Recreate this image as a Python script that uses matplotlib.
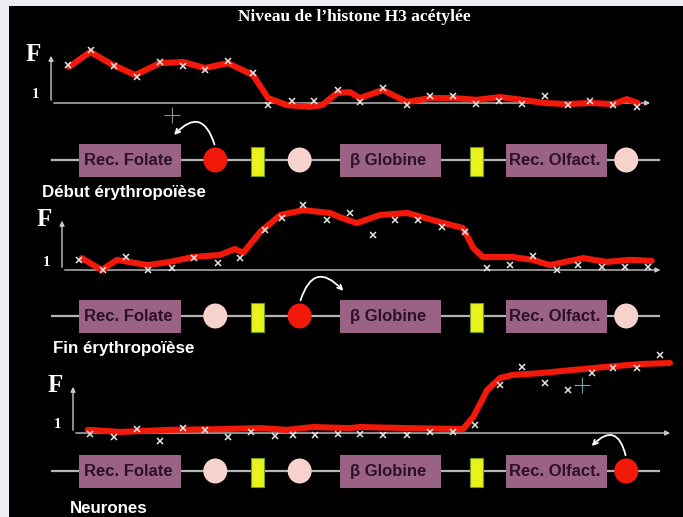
import matplotlib
matplotlib.use("Agg")
import matplotlib.pyplot as plt
from matplotlib.patches import Rectangle, Ellipse, FancyArrowPatch

plt.rcParams['font.family'] = ['Liberation Sans', 'DejaVu Sans']

title = "Niveau de l\u2019histone H3 acétylée"
stages = ["Début érythropoïèse", "Fin érythropoïèse", "Neurones"]

# red traces (position along the locus, fold enrichment F)
p1_curve_pos = [2.8, 6.3, 10.0, 13.7, 17.8, 21.6, 25.2, 29.0, 33.1, 35.6, 38.7, 42.5, 44.5, 47.0, 49.1,
                50.7, 54.5, 58.5, 62.3, 66.1, 70.0, 73.8, 77.4, 81.2, 84.8, 88.6, 92.4, 94.7, 96.5]
p1_curve_f = [2.03, 2.46, 2.09, 1.80, 2.14, 2.17, 2.00, 2.14, 1.80, 1.14, 0.94, 0.89, 0.94, 1.29, 1.31,
              1.14, 1.37, 1.03, 1.14, 1.14, 1.09, 1.17, 1.09, 1.00, 0.97, 1.00, 0.97, 1.11, 1.00]
p2_curve_pos = [4.9, 8.2, 10.7, 15.7, 19.4, 23.2, 27.7, 30.1, 31.5, 34.3, 37.6, 41.4, 45.8, 47.4,
                50.2, 54.0, 58.5, 63.9, 67.7, 69.4, 71.0, 75.9, 79.2, 82.0, 87.5, 91.4, 95.2, 98.8]
p2_curve_f = [1.34, 1.00, 1.29, 1.14, 1.23, 1.37, 1.43, 1.60, 1.49, 2.09, 2.57, 2.71, 2.63, 2.51,
              2.34, 2.57, 2.63, 2.37, 2.20, 1.63, 1.37, 1.37, 1.29, 1.14, 1.34, 1.23, 1.29, 1.26]
p3_curve_pos = [5.9, 11.2, 19.4, 27.7, 34.3, 38.7, 43.0, 49.1, 50.7, 58.5, 67.7, 69.4, 71.7, 73.8,
                75.9, 80.4, 85.8, 91.4, 96.9, 101.8]
p3_curve_f = [1.09, 1.03, 1.09, 1.11, 1.14, 1.09, 1.17, 1.14, 1.17, 1.14, 1.11, 1.46, 2.23, 2.57,
              2.66, 2.71, 2.80, 2.89, 2.97, 3.00]

# measured points (white x)
p1_mark_pos = [2.6, 6.4, 10.2, 14.0, 17.8, 21.6, 25.2, 29.0, 33.1, 35.6, 39.5, 43.2, 47.1, 50.7,
               54.5, 58.5, 62.3, 66.1, 69.9, 73.6, 77.4, 81.2, 85.0, 88.6, 92.4, 96.4]
p1_mark_f = [2.09, 2.51, 2.06, 1.74, 2.17, 2.06, 1.94, 2.20, 1.86, 0.94, 1.06, 1.06, 1.37, 1.03,
             1.43, 0.94, 1.20, 1.20, 0.97, 1.06, 0.97, 1.20, 0.94, 1.06, 0.94, 0.89]
p2_mark_pos = [4.4, 8.4, 12.2, 15.8, 19.8, 23.4, 27.3, 31.0, 35.1, 37.9, 41.4, 45.3, 49.1, 52.9,
               56.5, 60.3, 64.3, 68.0, 71.7, 75.5, 79.2, 83.2, 86.7, 90.6, 94.4, 98.2]
p2_mark_f = [1.29, 1.00, 1.37, 1.00, 1.06, 1.34, 1.20, 1.34, 2.14, 2.49, 2.86, 2.43, 2.63, 2.00,
             2.43, 2.43, 2.23, 2.09, 1.06, 1.14, 1.40, 1.00, 1.14, 1.09, 1.09, 1.09]
p3_mark_pos = [6.3, 10.2, 14.0, 17.8, 21.6, 25.2, 29.0, 32.8, 36.7, 39.7, 43.3, 47.1, 50.7, 54.5,
               58.5, 62.3, 66.1, 69.7, 73.8, 77.4, 81.2, 85.0, 89.0, 92.4, 96.4, 100.2]
p3_mark_f = [0.97, 0.89, 1.11, 0.77, 1.14, 1.09, 0.89, 1.03, 0.91, 0.94, 0.94, 0.97, 0.97, 0.94,
             0.94, 1.03, 1.03, 1.23, 2.37, 2.89, 2.43, 2.23, 2.71, 2.86, 2.86, 3.23]

curves_pos = [p1_curve_pos, p2_curve_pos, p3_curve_pos]
curves_f = [p1_curve_f, p2_curve_f, p3_curve_f]
marks_pos = [p1_mark_pos, p2_mark_pos, p3_mark_pos]
marks_f = [p1_mark_f, p2_mark_f, p3_mark_f]

# locus map
genes = ["Rec. Folate", "\u03b2 Globine", "Rec. Olfact."]
gene_start = [4.4, 47.4, 74.8]
gene_end = [21.3, 64.1, 91.4]
insulators = [33.9, 69.9]
sites = [26.9, 40.8, 94.6]
active_site = [0, 1, 2]  # which site is red in each panel
arrow_to = [19.8, 48.3, 88.6]

# layout (pixels)
W, H = 683, 517
PX0, PXU = 52, 6.07          # pixel of position 0, pixels per position unit
FPX = 35                     # pixels per F unit
baseline = [103, 270, 433]
yaxis_x = [-0.16, 1.65, 3.46]
xaxis_end = [99.0, 100.7, 102.3]
yaxis_top = [2.43, 2.49, 2.40]
gene_y = [160, 316, 471]
stage_xy = [(-1.65, 192), (0.16, 348), (2.97, 508)]
arc_rad = [0.9, -0.9, 0.95]

RED = '#f2180a'
PINK = '#f5d3cc'
MAUVE = '#9a6386'
YELLOW = '#eaf21c'

fig = plt.figure(figsize=(W / 100, H / 100), dpi=100, facecolor='#eceef3')
left_px, top_px = 9, 6
xl = ((left_px - PX0) / PXU, (W - PX0) / PXU)
ax = fig.add_axes([left_px / W, 0, (W - left_px) / W, (H - top_px) / H], facecolor='black')
ax.set_xlim(xl)
ax.set_ylim(H, top_px)
ax.set_xticks([])
ax.set_yticks([])
for s in ax.spines.values():
    s.set_visible(False)

ax.text(49.8, 17, title, ha='center', va='center', color='white', fontsize=12.5,
        fontweight='bold', family='Liberation Serif')

for i in range(3):
    # graph axes
    b = baseline[i]
    g = fig.add_axes([left_px / W, (H - (b + 20)) / H, (W - left_px) / W, 100 / H])
    g.set_xlim(xl)
    g.set_ylim(1 - 20 / FPX, 1 + 80 / FPX)
    g.axis('off')
    g.annotate('', xy=(xaxis_end[i], 1), xytext=(yaxis_x[i], 1),
               arrowprops=dict(arrowstyle='-|>', color='#c8c8c8', lw=1, mutation_scale=7))
    g.annotate('', xy=(yaxis_x[i], yaxis_top[i]), xytext=(yaxis_x[i], 1),
               arrowprops=dict(arrowstyle='-|>', color='#c8c8c8', lw=1, mutation_scale=7))
    g.annotate('F', xy=(yaxis_x[i], yaxis_top[i]), xytext=(-18, -2), textcoords='offset pixels',
               ha='center', va='center', color='white', fontsize=18, fontweight='bold',
               family='Liberation Serif')
    g.annotate('1', xy=(yaxis_x[i], 1), xytext=(-16, 8), textcoords='offset pixels',
               ha='center', va='center', color='white', fontsize=10.5, fontweight='bold',
               family='Liberation Serif')
    g.plot(curves_pos[i], curves_f[i], color=RED, lw=4.4, solid_capstyle='round',
           solid_joinstyle='round', clip_on=False, zorder=3)
    g.plot(marks_pos[i], marks_f[i], ls='none', marker='x', ms=4.5, mew=1.1,
           color='#e6e6e6', clip_on=False, zorder=4)

    # locus map
    y = gene_y[i]
    ax.plot([0, 100], [y, y], color='#b4b4b4', lw=1.6, zorder=1)
    for name, s0, s1 in zip(genes, gene_start, gene_end):
        ax.add_patch(Rectangle((s0, y - 16.5), s1 - s0, 33, facecolor=MAUVE, edgecolor='none', zorder=2))
        ax.text((s0 + s1) / 2 - 0.3, y, name, ha='center', va='center', color='#2e1028',
                fontsize=12, fontweight='bold', zorder=3)
    for p in insulators:
        ax.add_patch(Rectangle((p - 1.05, y - 13), 2.1, 29, facecolor=YELLOW, edgecolor='#6f9a20',
                               lw=0.8, zorder=2))
    for k, p in enumerate(sites):
        col = RED if k == active_site[i] else PINK
        ax.add_patch(Ellipse((p, y), 24 / PXU, 25, facecolor=col, edgecolor='none', zorder=2))
    sp = sites[active_site[i]]
    ax.add_patch(FancyArrowPatch((sp, y - 13), (arrow_to[i], y - 23),
                                 connectionstyle='arc3,rad=%s' % arc_rad[i], arrowstyle='->',
                                 mutation_scale=8, color='white', lw=1.3, zorder=4))
    ax.text(stage_xy[i][0], stage_xy[i][1], stages[i], ha='left', va='center', color='white',
            fontsize=12.2, fontweight='bold')

# stray "+" marks on the slide
ax.plot([19.8], [115], marker='+', ms=12, mew=0.8, color='#8c8c8c')
ax.plot([87.3], [385], marker='+', ms=12, mew=0.8, color='#7fa3b0')

fig.savefig('out.png', dpi=100, facecolor=fig.get_facecolor())
